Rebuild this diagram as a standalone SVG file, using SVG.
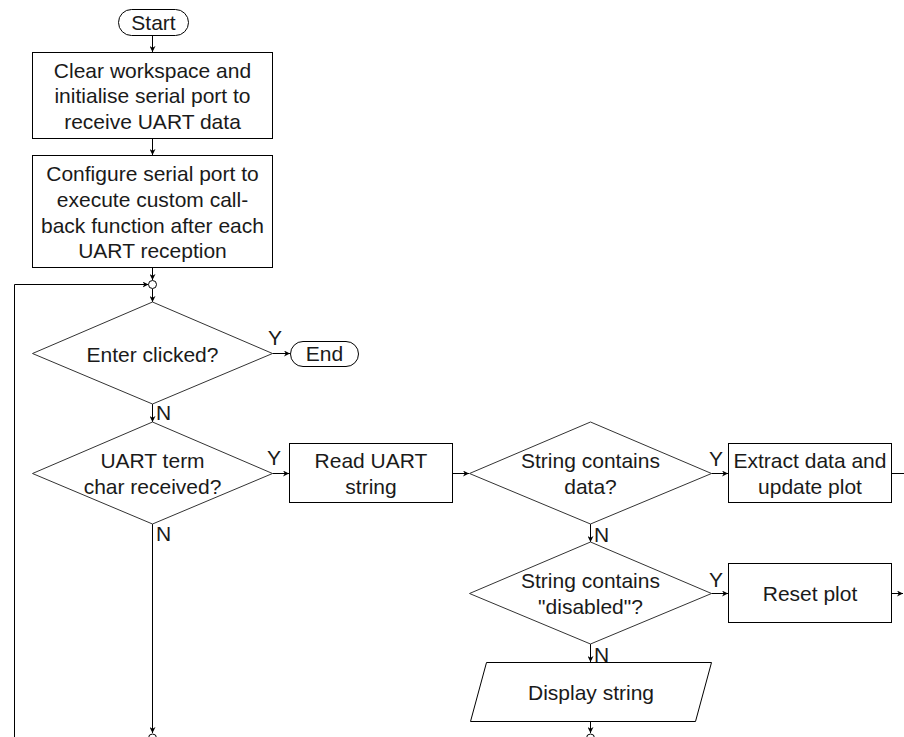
<svg xmlns="http://www.w3.org/2000/svg" width="904" height="737" viewBox="0 0 904 737">
<defs>
<marker id="arr" viewBox="0 0 10 10" refX="10" refY="5" markerWidth="6" markerHeight="6" markerUnits="userSpaceOnUse" orient="auto">
<path d="M0,0 L10,5 L0,10 L3,5 z" fill="#000"/>
</marker>
<style>
.s{fill:#fff;stroke:#000;stroke-width:1}
.d{fill:#fff;stroke:#333;stroke-width:1}
.t{font-family:"Liberation Sans",Arial,sans-serif;font-size:21px;fill:#1a1a1a;text-anchor:middle}
.l{font-family:"Liberation Sans",Arial,sans-serif;font-size:21px;fill:#1a1a1a}
.c{fill:none;stroke:#000;stroke-width:1}
.ca{fill:none;stroke:#000;stroke-width:1;marker-end:url(#arr)}
</style>
</defs>
<rect width="904" height="737" fill="#fff"/>
<g id="connectors">
<line class="ca" x1="152.5" y1="35" x2="152.5" y2="52"/>
<line class="ca" x1="152.5" y1="138" x2="152.5" y2="155"/>
<line class="ca" x1="152.5" y1="268" x2="152.5" y2="280"/>
<polyline class="ca" points="14.5,737 14.5,284.5 148.5,284.5"/>
<line class="ca" x1="152.5" y1="289" x2="152.5" y2="302"/>
<line class="ca" x1="272.5" y1="353.5" x2="290" y2="353.5"/>
<line class="ca" x1="152.5" y1="404" x2="152.5" y2="422"/>
<line class="ca" x1="272.5" y1="473.5" x2="289" y2="473.5"/>
<line class="ca" x1="152.5" y1="524" x2="152.5" y2="733"/>
<line class="ca" x1="453" y1="473.5" x2="469" y2="473.5"/>
<line class="ca" x1="711.5" y1="473.5" x2="728" y2="473.5"/>
<line class="c" x1="892" y1="473.5" x2="904" y2="473.5"/>
<line class="ca" x1="590.5" y1="524" x2="590.5" y2="542"/>
<line class="ca" x1="711.5" y1="593.5" x2="728" y2="593.5"/>
<line class="ca" x1="892" y1="593.5" x2="903" y2="593.5"/>
<line class="ca" x1="590.5" y1="644" x2="590.5" y2="662"/>
<line class="ca" x1="590.5" y1="722" x2="590.5" y2="733"/>
<circle class="s" cx="152.5" cy="284.5" r="4"/>
<circle class="s" cx="152.5" cy="738" r="4"/>
<circle class="s" cx="590.5" cy="738" r="4"/>
<text class="l" x="268" y="345">Y</text>
<text class="l" x="267" y="465">Y</text>
<text class="l" x="709" y="466">Y</text>
<text class="l" x="709" y="587">Y</text>
<text class="l" x="156" y="420">N</text>
<text class="l" x="156" y="541">N</text>
<text class="l" x="594" y="542">N</text>
<text class="l" x="594" y="662">N</text>
</g>
<g id="start">
<rect class="s" x="118.5" y="9.5" width="70" height="26" rx="13"/>
<text class="t" x="153.5" y="29.5">Start</text>
</g>
<g id="init">
<rect class="s" x="32.5" y="52.5" width="240" height="86"/>
<text class="t" x="152.5" y="77.5">Clear workspace and</text>
<text class="t" x="152.5" y="103">initialise serial port to</text>
<text class="t" x="152.5" y="128.5">receive UART data</text>
</g>
<g id="configure">
<rect class="s" x="32.5" y="155.5" width="240" height="112"/>
<text class="t" x="152.5" y="181">Configure serial port to</text>
<text class="t" x="152.5" y="207">execute custom call-</text>
<text class="t" x="152.5" y="232.5">back function after each</text>
<text class="t" x="152.5" y="258">UART reception</text>
</g>
<g id="enter">
<polygon class="d" points="152.5,302 272.5,353.5 152.5,404 32.5,353.5"/>
<text class="t" x="152.5" y="361.5">Enter clicked?</text>
</g>
<g id="end">
<rect class="s" x="290.5" y="341.5" width="68" height="25" rx="12.5"/>
<text class="t" x="324.5" y="361">End</text>
</g>
<g id="uart">
<polygon class="d" points="152.5,422 272.5,473.5 152.5,524 32.5,473.5"/>
<text class="t" x="152.5" y="468">UART term</text>
<text class="t" x="152.5" y="493.5">char received?</text>
</g>
<g id="read">
<rect class="s" x="289.5" y="443.5" width="163" height="59"/>
<text class="t" x="371" y="468">Read UART</text>
<text class="t" x="371" y="493.5">string</text>
</g>
<g id="hasdata">
<polygon class="d" points="590.5,422 711.5,473.5 590.5,524 469.5,473.5"/>
<text class="t" x="590.5" y="468">String contains</text>
<text class="t" x="590.5" y="493.5">data?</text>
</g>
<g id="extract">
<rect class="s" x="728.5" y="443.5" width="163" height="59"/>
<text class="t" x="810" y="468">Extract data and</text>
<text class="t" x="810" y="493.5">update plot</text>
</g>
<g id="disabled">
<polygon class="d" points="590.5,542 711.5,593.5 590.5,644 469.5,593.5"/>
<text class="t" x="590.5" y="588">String contains</text>
<text class="t" x="590.5" y="613.5">"disabled"?</text>
</g>
<g id="reset">
<rect class="s" x="728.5" y="563.5" width="163" height="59"/>
<text class="t" x="810" y="600.5">Reset plot</text>
</g>
<g id="display">
<polygon class="s" points="486.5,662.5 711.5,662.5 695.5,721.5 470.5,721.5"/>
<text class="t" x="591" y="699.5">Display string</text>
</g>
</svg>
